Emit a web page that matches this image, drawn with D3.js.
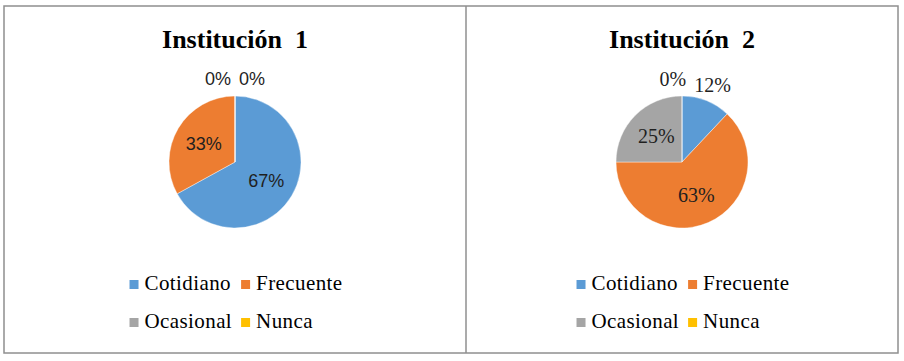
<!DOCTYPE html>
<html>
<head>
<meta charset="utf-8">
<script src="https://cdn.jsdelivr.net/npm/d3@7"></script>
<style>
  body { margin: 0; background: #fff; }
  svg { display: block; }
</style>
</head>
<body>
<div id="chart"></div>
<script>
'use strict';

const categories = ["Cotidiano", "Frecuente", "Ocasional", "Nunca"];
const titles = ["Institución  1", "Institución  2"];
const inst1Values = [67, 33, 0, 0];
const inst2Values = [12, 63, 25, 0];
const sliceColors = ["#5B9BD5", "#ED7D31", "#A5A5A5", "#FFC000"];

const width = 904, height = 361;
const frame = { left: 4, top: 6, right: 898, bottom: 353, divider: 466 };

const panels = [
  { title: titles[0], values: inst1Values, x0: frame.left, x1: frame.divider,
    labelFont: "'Liberation Sans', Arial, sans-serif", labelSize: 18 },
  { title: titles[1], values: inst2Values, x0: frame.divider, x1: frame.right,
    labelFont: "'Liberation Serif', 'Times New Roman', serif", labelSize: 20 }
];

const svg = d3.select("#chart").append("svg")
  .attr("width", width)
  .attr("height", height);

// outer frame + divider
svg.append("rect")
  .attr("x", frame.left).attr("y", frame.top)
  .attr("width", frame.right - frame.left)
  .attr("height", frame.bottom - frame.top)
  .attr("fill", "none")
  .attr("stroke", "#8f8f8f")
  .attr("stroke-width", 1.5);

svg.append("line")
  .attr("x1", frame.divider).attr("x2", frame.divider)
  .attr("y1", frame.top).attr("y2", frame.bottom)
  .attr("stroke", "#8f8f8f")
  .attr("stroke-width", 1.5);

const radius = 66;
const pie = d3.pie().sort(null).value(d => d.value);
const arc = d3.arc().innerRadius(0).outerRadius(radius);
const insideArc = d3.arc().innerRadius(radius * 0.55).outerRadius(radius * 0.55);
const outsideArc = d3.arc().innerRadius(radius + 17).outerRadius(radius + 17);

panels.forEach(function (panel) {
  const cx = (panel.x0 + panel.x1) / 2;
  const g = svg.append("g");

  g.append("text")
    .attr("x", cx)
    .attr("y", 48)
    .attr("text-anchor", "middle")
    .style("white-space", "pre")
    .style("font-family", "'Liberation Serif', 'Times New Roman', serif")
    .style("font-weight", "bold")
    .style("font-size", "26px")
    .text(panel.title);

  const data = categories.map((c, i) => ({ name: c, value: panel.values[i], color: sliceColors[i], index: i }));
  const arcs = pie(data);

  const pieG = g.append("g")
    .attr("transform", `translate(${cx}, 162)`);

  pieG.selectAll("path")
    .data(arcs)
    .enter().append("path")
    .attr("d", arc)
    .attr("fill", d => d.data.color)
    .attr("stroke", "#fff")
    .attr("stroke-width", 0.4);

  const total = d3.sum(panel.values);
  const labels = arcs.map(function (a) {
    const share = a.data.value / total;
    const outside = share < 0.15;
    const c = outside ? outsideArc.centroid(a) : insideArc.centroid(a);
    return { arc: a, x: c[0], y: c[1], outside: outside, zero: a.data.value === 0,
             text: Math.round(share * 100) + "%" };
  });

  const labelSel = pieG.selectAll(".lbl")
    .data(labels)
    .enter().append("text")
    .attr("class", "lbl")
    .attr("text-anchor", "middle")
    .attr("dy", "0.35em")
    .style("font-family", panel.labelFont)
    .style("font-size", panel.labelSize + "px")
    .style("fill", "#1f1f1f")
    .text(d => d.text);

  labelSel.each(function (d) { d.w = this.getComputedTextLength(); });

  // push overlapping outside labels apart horizontally
  const gap = 8;
  const outs = labels.filter(d => d.outside);
  for (let iter = 0; iter < 10; iter++) {
    for (let i = 0; i < outs.length; i++) {
      for (let j = i + 1; j < outs.length; j++) {
        const a = outs[i], b = outs[j];
        if (Math.abs(a.y - b.y) > panel.labelSize) continue;
        const need = (a.w + b.w) / 2 + gap;
        const dist = Math.abs(a.x - b.x);
        if (dist >= need - 0.01) continue;
        const overlap = need - dist;
        let dir = Math.sign(b.x - a.x);
        if (dir === 0) dir = 1;
        if (a.zero && b.zero) {
          a.x -= dir * overlap / 2;
          b.x += dir * overlap / 2;
        } else if (a.zero) {
          a.x -= dir * overlap;
        } else if (b.zero) {
          b.x += dir * overlap;
        }
      }
    }
  }

  labelSel
    .attr("x", d => d.x)
    .attr("y", d => d.y);

  // legend: 2 columns x 2 rows
  const legendFont = "'Liberation Serif', 'Times New Roman', serif";
  const legendG = g.append("g");
  const items = legendG.selectAll(".item")
    .data(data)
    .enter().append("g")
    .attr("class", "item");

  items.append("rect")
    .attr("width", 9)
    .attr("height", 9)
    .attr("y", -10)
    .attr("fill", d => d.color);

  items.append("text")
    .attr("x", 15)
    .style("font-family", legendFont)
    .style("font-size", "21px")
    .style("letter-spacing", "0.4px")
    .style("fill", "#000")
    .text(d => d.name);

  const widths = [];
  items.selectAll("text").each(function () { widths.push(this.getComputedTextLength()); });
  const col0 = Math.max(widths[0], widths[2]);
  const col1 = Math.max(widths[1], widths[3]);
  const colStep = 15 + col0 + 9;
  const legendWidth = colStep + 15 + col1;
  const lx = cx + 1 - legendWidth / 2;

  items.attr("transform", (d, i) => `translate(${lx + (i % 2) * colStep}, ${i < 2 ? 290 : 328})`);
});
</script>
</body>
</html>
